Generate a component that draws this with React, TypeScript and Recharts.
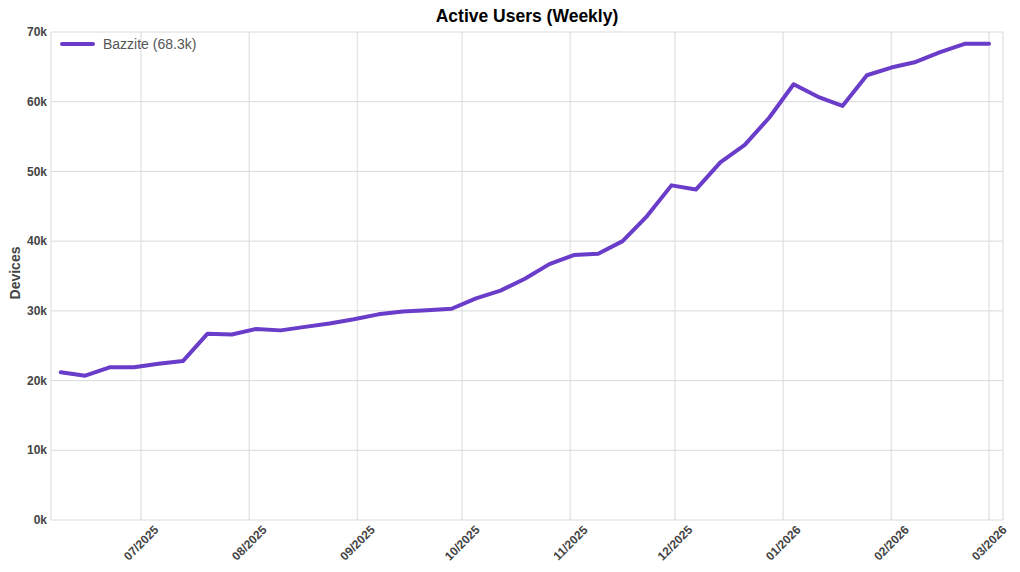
import React from "react";
import { LineChart, Line, XAxis, YAxis, CartesianGrid, Legend } from "recharts";

const weekDates: string[] = [
  "2025-06-08", "2025-06-15", "2025-06-22", "2025-06-29", "2025-07-06", "2025-07-13",
  "2025-07-20", "2025-07-27", "2025-08-03", "2025-08-10", "2025-08-17", "2025-08-24",
  "2025-08-31", "2025-09-07", "2025-09-14", "2025-09-21", "2025-09-28", "2025-10-05",
  "2025-10-12", "2025-10-19", "2025-10-26", "2025-11-02", "2025-11-09", "2025-11-16",
  "2025-11-23", "2025-11-30", "2025-12-07", "2025-12-14", "2025-12-21", "2025-12-28",
  "2026-01-04", "2026-01-11", "2026-01-18", "2026-01-25", "2026-02-01", "2026-02-08",
  "2026-02-15", "2026-02-22", "2026-03-01",
];

const bazziteDevices: number[] = [
  21200, 20700, 21900, 21900, 22400, 22800,
  26700, 26600, 27400, 27200, 27700, 28200,
  28800, 29500, 29900, 30100, 30300, 31800,
  32900, 34600, 36700, 38000, 38200, 40000,
  43600, 48000, 47400, 51300, 53800, 57700,
  62500, 60700, 59400, 63800, 64900, 65700,
  67100, 68300, 68300,
];

const monthTickDates: string[] = [
  "2025-07-01", "2025-08-01", "2025-09-01", "2025-10-01", "2025-11-01",
  "2025-12-01", "2026-01-01", "2026-02-01", "2026-03-01",
];

const yTicks: number[] = [0, 10000, 20000, 30000, 40000, 50000, 60000, 70000];

const seriesName = "Bazzite";
const legendLabel = "Bazzite (68.3k)";
const chartTitle = "Active Users (Weekly)";
const yAxisTitle = "Devices";

const DAY = 86400000;
const toDay = (s: string) => {
  const [y, m, d] = s.split("-").map(Number);
  return Date.UTC(y, m - 1, d) / DAY;
};

const data = weekDates.map((d, i) => ({ t: toDay(d), value: bazziteDevices[i] }));
const xTicks = monthTickDates.map(toDay);
const xDomain = [toDay(weekDates[0]) - 2.8, toDay(weekDates[weekDates.length - 1]) + 4];

const FONT = "'Liberation Sans', Arial, Helvetica, sans-serif";
const LINE_COLOR = "#6a3cca";

const fmtMonth = (t: number) => {
  const dt = new Date(t * DAY);
  const m = dt.getUTCMonth() + 1;
  return `${m < 10 ? "0" + m : m}/${dt.getUTCFullYear()}`;
};

const XTick = (props: any) => {
  const { x, y, payload } = props;
  return (
    <g transform={`translate(${x},${y + 15})`}>
      <text
        transform="rotate(-45)"
        textAnchor="middle"
        dy="0.35em"
        fontFamily={FONT}
        fontWeight="bold"
        fontSize={12}
        fill="#444"
      >
        {fmtMonth(payload.value)}
      </text>
    </g>
  );
};

const YTick = (props: any) => {
  const { y, payload } = props;
  return (
    <text
      x={47}
      y={y}
      dy="0.35em"
      textAnchor="end"
      fontFamily={FONT}
      fontWeight="bold"
      fontSize={12}
      fill="#444"
    >
      {`${payload.value / 1000}k`}
    </text>
  );
};

const YLabel = (props: any) => {
  const vb = props.viewBox || { x: 0, y: 0, width: 0, height: 0 };
  const cx = 15;
  const cy = vb.y + vb.height / 2 - 3;
  return (
    <text
      x={cx}
      y={cy}
      transform={`rotate(-90, ${cx}, ${cy})`}
      textAnchor="middle"
      dy="0.35em"
      fontFamily={FONT}
      fontWeight="bold"
      fontSize={14}
      fill="#444"
    >
      {yAxisTitle}
    </text>
  );
};

const LegendContent = () => (
  <div style={{ display: "flex", alignItems: "center", fontFamily: FONT, fontSize: 14, color: "#555" }}>
    <svg width={35} height={8} style={{ display: "block" }}>
      <line x1={2} y1={4} x2={33} y2={4} stroke={LINE_COLOR} strokeWidth={4} strokeLinecap="round" />
    </svg>
    <span style={{ marginLeft: 8 }}>{legendLabel}</span>
  </div>
);

export default function App() {
  return (
    <div style={{ position: "absolute", left: 0, top: 0, width: 1020, height: 572, background: "#fff" }}>
      <div
        style={{
          position: "absolute",
          left: 0,
          top: 5,
          width: 1054,
          textAlign: "center",
          fontFamily: FONT,
          fontWeight: "bold",
          fontSize: 17.5,
          color: "#000",
          lineHeight: "22px",
        }}
      >
        {chartTitle}
      </div>
      <LineChart
        width={1020}
        height={572}
        data={data}
        margin={{ top: 32, right: 17, bottom: 0, left: 0 }}
      >
        <CartesianGrid horizontal={false} vertical={true} stroke="#e6e6e6" strokeWidth={1.5} />
        <CartesianGrid horizontal={true} vertical={false} stroke="#dadada" strokeWidth={1} />
        <XAxis
          dataKey="t"
          type="number"
          domain={xDomain}
          ticks={xTicks}
          allowDataOverflow
          axisLine={false}
          tickLine={false}
          tickSize={6}
          tickMargin={2}
          height={52}
          interval={0}
          tick={<XTick />}
        />
        <YAxis
          type="number"
          domain={[0, 70000]}
          ticks={yTicks}
          axisLine={false}
          tickLine={false}
          width={51}
          interval={0}
          tick={<YTick />}
          label={<YLabel />}
        />
        <Legend
          verticalAlign="middle"
          align="center"
          layout="horizontal"
          wrapperStyle={{ position: "absolute", left: 60, top: 36, width: "auto", height: "auto" }}
          content={<LegendContent />}
        />
        <Line
          name={seriesName}
          dataKey="value"
          type="linear"
          stroke={LINE_COLOR}
          strokeWidth={4}
          strokeLinejoin="round"
          strokeLinecap="round"
          dot={false}
          activeDot={false}
          isAnimationActive={false}
        />
      </LineChart>
    </div>
  );
}
